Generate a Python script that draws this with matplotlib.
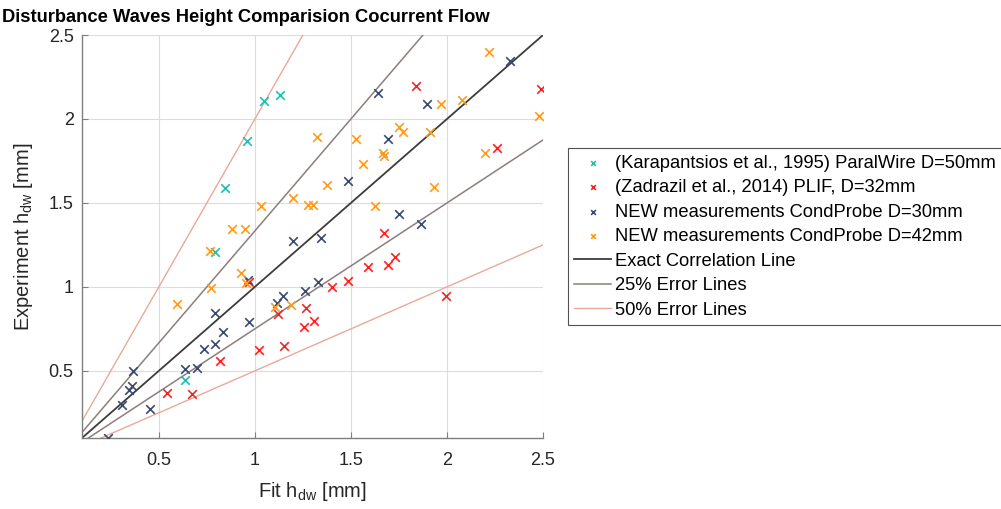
import numpy as np
import matplotlib
matplotlib.use("Agg")
import matplotlib.pyplot as plt

plt.rcParams['font.family'] = ['Liberation Sans', 'DejaVu Sans']

# Karapantsios et al. 1995 (ParalWire, D=50mm)
kar_fit = [0.636, 0.795, 0.847, 0.960, 1.049, 1.131]
kar_exp = [0.444, 1.210, 1.589, 1.867, 2.105, 2.140]

# Zadrazil et al. 2014 (PLIF, D=32mm)
zad_fit = [0.540, 0.671, 0.816, 0.971, 1.020, 1.119, 1.149, 1.254, 1.265, 1.310,
           1.403, 1.486, 1.590, 1.693, 1.727, 1.670, 1.838, 1.994, 2.260, 2.490]
zad_exp = [0.369, 0.363, 0.561, 1.030, 0.623, 0.836, 0.646, 0.762, 0.872, 0.796,
           1.000, 1.033, 1.117, 1.133, 1.176, 1.320, 2.198, 0.948, 1.827, 2.180]

# new measurements D=30mm
d30_fit = [0.237, 0.310, 0.345, 0.361, 0.363, 0.455, 0.635, 0.698, 0.736, 0.795,
           0.836, 0.790, 0.970, 0.966, 1.116, 1.147, 1.259, 1.330, 1.196, 1.345,
           1.484, 1.750, 1.867, 1.693, 1.897, 1.640, 2.330]
d30_exp = [0.100, 0.296, 0.387, 0.410, 0.500, 0.270, 0.508, 0.516, 0.630, 0.662,
           0.732, 0.845, 0.790, 1.038, 0.905, 0.944, 0.978, 1.030, 1.276, 1.290,
           1.630, 1.435, 1.375, 1.880, 2.090, 2.152, 2.343]

# new measurements D=42mm
d42_fit = [0.597, 0.764, 0.774, 0.882, 0.929, 0.946, 0.955, 1.034, 1.105, 1.190,
           1.196, 1.274, 1.300, 1.325, 1.376, 1.527, 1.563, 1.624, 1.667, 1.670,
           1.749, 1.771, 1.910, 1.930, 1.970, 2.080, 2.200, 2.220, 2.478]
d42_exp = [0.899, 1.216, 0.994, 1.345, 1.083, 1.345, 1.024, 1.480, 0.881, 0.895,
           1.530, 1.486, 1.490, 1.893, 1.605, 1.881, 1.732, 1.484, 1.800, 1.780,
           1.950, 1.920, 1.920, 1.595, 2.090, 2.115, 1.800, 2.400, 2.020]

ticks = [0.5, 1, 1.5, 2, 2.5]
tick_labels = ['0.5', '1', '1.5', '2', '2.5']

fig = plt.figure(figsize=(10.01, 5.09), dpi=100)
ax = fig.add_axes([0.0819, 0.1395, 0.4606, 0.7917])

ms = 38
ax.scatter(kar_fit, kar_exp, marker='x', s=ms, color='#20bfae', linewidths=1.2,
           label='(Karapantsios et al., 1995) ParalWire D=50mm', zorder=3)
ax.scatter(zad_fit, zad_exp, marker='x', s=ms, color='#ff1f1f', linewidths=1.2,
           label='(Zadrazil et al., 2014) PLIF, D=32mm', zorder=3)
ax.scatter(d30_fit, d30_exp, marker='x', s=ms, color='#3a4a6e', linewidths=1.2,
           label='NEW measurements CondProbe D=30mm', zorder=3)
ax.scatter(d42_fit, d42_exp, marker='x', s=ms, color='#ff9a1a', linewidths=1.2,
           label='NEW measurements CondProbe D=42mm', zorder=3)

# correlation and error lines
xl = np.array([0.0, 2.6])
ax.plot(xl, xl, color='#3c3c3c', lw=1.3, label='Exact Correlation Line', zorder=2)
ax.plot(xl, xl / 0.75, color='#8c7e7b', lw=1.1, label='25% Error Lines', zorder=2)
ax.plot(xl, xl * 0.75, color='#8c7e7b', lw=1.1, zorder=2)
ax.plot(xl, xl / 0.5, color='#eaa998', lw=1.0, label='50% Error Lines', zorder=2)
ax.plot(xl, xl * 0.5, color='#eaa998', lw=1.0, zorder=2)

ax.set_xlim(0.1, 2.5)
ax.set_ylim(0.1, 2.5)
ax.set_xticks(ticks)
ax.set_xticklabels(tick_labels)
ax.set_yticks(ticks)
ax.set_yticklabels(tick_labels)
ax.grid(True, color='#dcdcdc', lw=0.8)
ax.set_axisbelow(True)
for s in ['top', 'right']:
    ax.spines[s].set_visible(False)
for s in ['left', 'bottom']:
    ax.spines[s].set_color('#7f7f7f')
    ax.spines[s].set_linewidth(1.0)
ax.tick_params(direction='in', length=4, color='#7f7f7f', labelsize=13,
               labelcolor='#262626', pad=6)
ax.tick_params(axis='x', pad=10)

ax.set_xlabel('Fit h$_{\\mathregular{dw}}$ [mm]', fontsize=14.5, color='#262626', labelpad=8)
ax.set_ylabel('Experiment h$_{\\mathregular{dw}}$ [mm]', fontsize=14.5, color='#262626', labelpad=10)

fig.text(0.002, 0.957, 'Disturbance Waves Height Comparision Cocurrent Flow',
         fontsize=13.2, fontweight='bold', ha='left', va='baseline')

leg = fig.legend(loc='upper left', bbox_to_anchor=(0.5674, 0.709), fontsize=13.2,
                 frameon=True, fancybox=False, edgecolor='#262626',
                 handlelength=2.0, handletextpad=0.2, borderpad=0.35,
                 labelspacing=0.41, borderaxespad=0, markerscale=0.55)
leg.get_frame().set_linewidth(0.8)

fig.savefig('out.png', dpi=100)
